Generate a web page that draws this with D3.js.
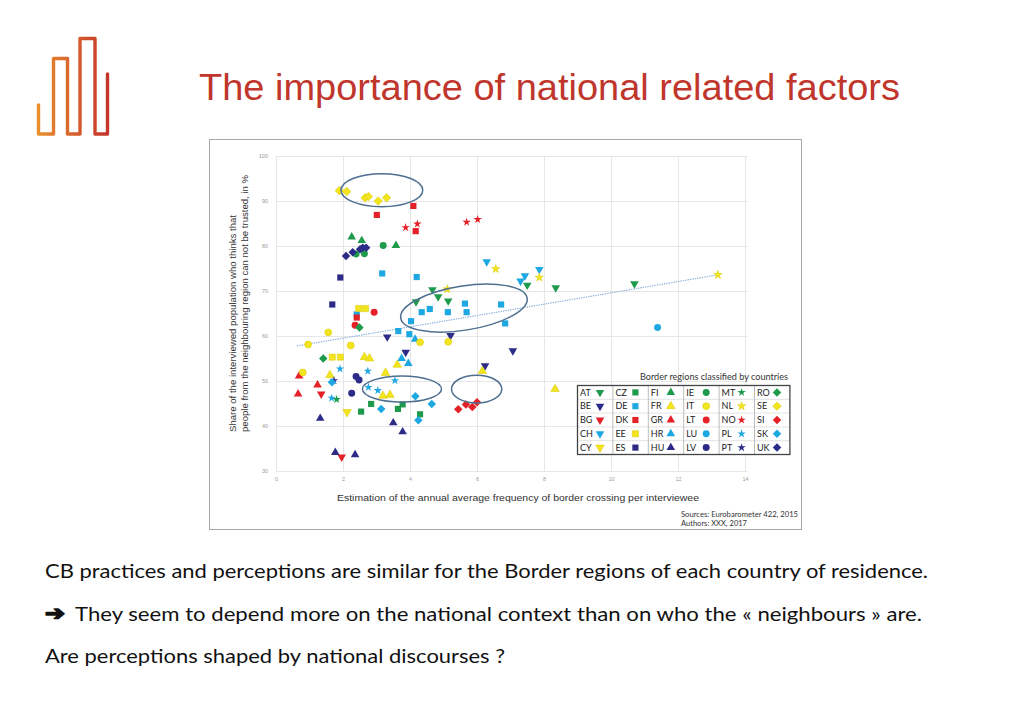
<!DOCTYPE html>
<html>
<head>
<meta charset="utf-8">
<script src="https://cdn.jsdelivr.net/npm/d3@7"></script>
<style>
body { margin: 0; background: #fff; }
svg { display: block; }
</style>
</head>
<body>
<div id="slide"></div>
<script>
// Border regions, one entry per country of residence
var countries = ["AT", "BE", "BG", "CH", "CY", "CZ", "DE", "DK", "EE", "ES",
    "FI", "FR", "GR", "HR", "HU", "IE", "IT", "LT", "LU", "LV",
    "MT", "NL", "NO", "PL", "PT", "RO", "SE", "SI", "SK", "UK"];

// crossings per interviewee (x) for each border region, same order as countries
var xValues = [
    [4.18, 4.67, 4.84, 5.14, 7.50, 8.35, 10.70],   // AT
    [3.32, 3.87, 5.21, 7.07, 6.24],                 // BE
    [1.35, 1.96],                                   // BG
    [6.29, 7.86, 7.43, 7.30],                       // CH
    [2.12],                                         // CY
    [2.54, 2.84, 3.64, 3.78, 4.30],                 // CZ
    [3.17, 4.20, 2.41, 3.65, 3.98, 4.03, 4.35, 4.59, 5.13, 5.64, 5.69, 6.72, 6.84], // DE
    [3.01, 4.10, 4.17, 2.41],                       // DK
    [2.47, 2.67, 1.68, 1.92],                       // EE
    [1.92, 1.68],                                   // ES
    [2.26, 2.56, 3.58],                             // FI
    [2.64, 2.79, 3.62, 1.61, 3.27, 3.19, 3.40, 6.16, 8.33], // FR
    [0.69, 1.24, 0.66],                             // GR
    [4.15, 3.75, 3.95],                             // HR
    [1.32, 3.50, 3.78, 1.77, 2.36],                 // HU
    [3.20, 2.39, 2.64],                             // IE
    [1.56, 0.96, 2.23, 0.80, 4.30, 5.14],           // IT
    [2.93, 2.36],                                   // LT
    [11.39],                                        // LU
    [2.39, 2.48, 2.26],                             // LV
    [1.81],                                         // MT
    [6.56, 7.86, 5.11, 13.19],                      // NL
    [3.87, 4.22, 5.69, 6.02],                       // NO
    [1.91, 2.74, 1.66, 3.55, 2.76, 3.04],           // PL
    [1.73],                                         // PT
    [2.49, 1.41],                                   // RO
    [1.89, 2.11, 2.66, 2.76, 3.05, 3.30],           // SE
    [5.44, 5.67, 5.86, 6.00],                       // SI
    [1.67, 4.16, 4.65, 3.14, 4.25],                 // SK
    [2.09, 2.29, 2.51, 2.59, 2.69]                  // UK
];

// share who think neighbours can not be trusted (y, %)
var yValues = [
    [67.6, 70.3, 68.7, 67.8, 71.3, 70.7, 71.6],
    [59.8, 56.4, 60.1, 56.7, 53.4],
    [47.1, 33.1],
    [76.5, 74.8, 73.4, 72.2],
    [43.1],
    [43.2, 44.9, 43.8, 44.8, 42.6],
    [73.9, 73.1, 64.8, 61.1, 60.4, 63.3, 65.3, 66.0, 65.3, 67.2, 65.3, 67.0, 62.8],
    [86.9, 88.9, 83.3, 64.1],
    [66.1, 66.1, 55.3, 55.3],
    [73.0, 67.0],
    [82.0, 81.2, 80.1],
    [55.3, 55.0, 53.6, 51.3, 51.8, 46.7, 46.9, 52.2, 48.2],
    [51.1, 49.1, 47.1],
    [59.3, 55.0, 53.9],
    [41.7, 40.7, 38.7, 34.1, 33.6],
    [80.1, 78.2, 78.3],
    [60.8, 58.1, 57.9, 51.9, 58.6, 58.7],
    [65.3, 62.4],
    [61.9],
    [51.0, 50.2, 47.3],
    [45.9],
    [74.9, 73.0, 70.4, 73.6],
    [84.1, 84.9, 85.3, 85.9],
    [52.7, 52.2, 46.2, 50.1, 48.6, 47.9],
    [50.1],
    [61.9, 55.0],
    [92.3, 92.1, 90.7, 91.0, 90.0, 90.7],
    [43.7, 44.8, 44.2, 45.3],
    [49.7, 46.6, 44.9, 43.8, 41.3],
    [77.8, 78.6, 79.3, 79.6, 79.6]
];

// dotted trend line end points
var trendX = [0.63, 13.19];
var trendY = [57.8, 73.6];

// circled groups: centre x, centre y, half width, half height (data units), tilt
var circledX = [3.16, 5.61, 3.76, 5.99];
var circledY = [92.4, 66.2, 48.2, 48.2];
var circledW = [1.22, 1.91, 1.18, 0.75];
var circledH = [3.67, 4.9, 2.9, 3.1];
var circledTilt = [0, -9, 0, 0];

var xTicks = [0, 2, 4, 6, 8, 10, 12, 14];
var yTicks = [30, 40, 50, 60, 70, 80, 90, 100];

var bodyLines = [
    "CB practices and perceptions are similar for the Border regions of each country of residence.",
    "They seem to depend more on the national context than on who the \u00ab neighbours \u00bb are.",
    "Are perceptions shaped by national discourses ?"
];

// colours and marker shapes (styling only)
var green = "#1e9a4c", navy = "#2c2b88", red = "#e42128", cyan = "#1ea8e2", yellow = "#f2e41e";
var countryColor = [green, navy, red, cyan, yellow,
    green, cyan, red, yellow, navy,
    green, yellow, red, cyan, navy,
    green, yellow, red, cyan, navy,
    green, yellow, red, cyan, navy,
    green, yellow, red, cyan, navy];

function markerPath(col) {
    if (col === 0 || col === 2) return d3.symbol().type(d3.symbolTriangle).size(32)();
    if (col === 1) return d3.symbol().type(d3.symbolSquare).size(38)();
    if (col === 3) return d3.symbol().type(d3.symbolCircle).size(38)();
    if (col === 4) return d3.symbol().type(d3.symbolStar).size(22)();
    return d3.symbol().type(d3.symbolSquare).size(36)();
}
function markerRotate(col) {
    if (col === 0) return 180;
    if (col === 5) return 45;
    return 0;
}

var svg = d3.select("#slide")
    .append("svg")
    .attr("width", 1024)
    .attr("height", 709);

// Logo
var grad = svg.append("defs").append("linearGradient")
    .attr("id", "logoGrad")
    .attr("x1", "0%").attr("x2", "100%").attr("y1", "0%").attr("y2", "0%");
grad.append("stop").attr("offset", "0%").attr("stop-color", "#ea8e2c");
grad.append("stop").attr("offset", "100%").attr("stop-color", "#c4352b");

svg.append("path")
    .attr("d", "M38.5,105 V134 H53.5 V58.5 H67.5 V134 H80 V38.5 H95 V134 H107.5 V74")
    .attr("fill", "none")
    .attr("stroke", "url(#logoGrad)")
    .attr("stroke-width", 3.4)
    .attr("stroke-linejoin", "round")
    .attr("stroke-linecap", "round");

// Title
svg.append("text")
    .attr("x", 199)
    .attr("y", 100)
    .attr("textLength", 701)
    .attr("lengthAdjust", "spacingAndGlyphs")
    .attr("font-family", "Liberation Sans, Arial, sans-serif")
    .attr("font-size", 37)
    .attr("fill", "#c0362c")
    .text("The importance of national related factors");

// Chart frame
svg.append("rect")
    .attr("x", 209.5).attr("y", 139.5)
    .attr("width", 592).attr("height", 390)
    .attr("fill", "#fff")
    .attr("stroke", "#a8a8a8")
    .attr("stroke-width", 1);

var xScale = d3.scaleLinear().domain([0, 14]).range([276, 745]);
var yScale = d3.scaleLinear().domain([30, 100]).range([471, 156]);

var chart = svg.append("g");

// Gridlines + tick labels
var xAxis = d3.axisBottom(xScale)
    .tickValues(xTicks)
    .tickSize(-(yScale(30) - yScale(100)))
    .tickPadding(6)
    .tickFormat(d3.format("d"));
var yAxis = d3.axisLeft(yScale)
    .tickValues(yTicks)
    .tickSize(-(xScale(14) - xScale(0)) - 3)
    .tickPadding(8)
    .tickFormat(d3.format("d"));

var gx = chart.append("g")
    .attr("transform", `translate(0, ${yScale(30)})`)
    .call(xAxis);
var gy = chart.append("g")
    .attr("transform", `translate(${xScale(0)}, 0)`)
    .call(yAxis);

[gx, gy].forEach(function(g) {
    g.select(".domain").remove();
    g.selectAll("line").attr("stroke", "#e6e6e6").attr("stroke-width", 1);
    g.selectAll("text")
        .attr("fill", "#9a9a9a")
        .attr("font-size", 5.5)
        .attr("font-family", "Liberation Sans, Arial, sans-serif");
});

// Trend line
chart.append("line")
    .attr("x1", xScale(trendX[0])).attr("y1", yScale(trendY[0]))
    .attr("x2", xScale(trendX[1])).attr("y2", yScale(trendY[1]))
    .attr("stroke", "#8fb4de")
    .attr("stroke-width", 1.2)
    .attr("stroke-dasharray", "1.4,1");

// Points
var points = [];
countries.forEach(function(c, i) {
    xValues[i].forEach(function(xv, j) {
        points.push({ country: c, index: i, x: xv, y: yValues[i][j] });
    });
});

chart.selectAll("path.pt")
    .data(points)
    .enter()
    .append("path")
    .attr("class", "pt")
    .attr("d", d => markerPath(Math.floor(d.index / 5)))
    .attr("transform", d => `translate(${xScale(d.x)}, ${yScale(d.y)}) rotate(${markerRotate(Math.floor(d.index / 5))})`)
    .attr("fill", d => countryColor[d.index])
    .attr("stroke", d => countryColor[d.index] === yellow ? "#d8c800" : "none")
    .attr("stroke-width", 0.5);

// Circled groups
circledX.forEach(function(cx, i) {
    var px = xScale(cx), py = yScale(circledY[i]);
    chart.append("ellipse")
        .attr("cx", px).attr("cy", py)
        .attr("rx", xScale(cx + circledW[i]) - px)
        .attr("ry", py - yScale(circledY[i] + circledH[i]))
        .attr("transform", `rotate(${circledTilt[i]}, ${px}, ${py})`)
        .attr("fill", "none")
        .attr("stroke", "#4e6f90")
        .attr("stroke-width", 1.5);
});

// Axis titles
var yTitle = ["Share of the interviewed population who thinks that",
    "people from the neighbouring region can not be trusted, in %"];
chart.append("text")
    .attr("transform", "translate(235.5, 432) rotate(-90)")
    .attr("textLength", 217)
    .attr("lengthAdjust", "spacingAndGlyphs")
    .attr("font-family", "Liberation Sans, Arial, sans-serif")
    .attr("font-size", 9.3)
    .attr("fill", "#333")
    .text(yTitle[0]);
chart.append("text")
    .attr("transform", "translate(247.5, 432) rotate(-90)")
    .attr("textLength", 257)
    .attr("lengthAdjust", "spacingAndGlyphs")
    .attr("font-family", "Liberation Sans, Arial, sans-serif")
    .attr("font-size", 9.3)
    .attr("fill", "#333")
    .text(yTitle[1]);

chart.append("text")
    .attr("x", 337)
    .attr("y", 501)
    .attr("textLength", 362)
    .attr("lengthAdjust", "spacingAndGlyphs")
    .attr("font-family", "Liberation Sans, Arial, sans-serif")
    .attr("font-size", 9.5)
    .attr("fill", "#333")
    .text("Estimation of the annual average frequency of border crossing per interviewee");

// Legend
var legX = 577.5, legY = 385.5, colW = 35.4, rowH = 13.8;
var legend = chart.append("g");

legend.append("text")
    .attr("x", 640)
    .attr("y", 380)
    .attr("textLength", 148)
    .attr("lengthAdjust", "spacingAndGlyphs")
    .attr("font-family", "Lato, sans-serif")
    .attr("font-size", 8.6)
    .attr("fill", "#333")
    .text("Border regions classified by countries");

legend.append("rect")
    .attr("x", legX).attr("y", legY)
    .attr("width", colW * 6).attr("height", rowH * 5)
    .attr("fill", "#fff");

for (var r = 1; r < 5; r++) {
    legend.append("line")
        .attr("x1", legX).attr("x2", legX + colW * 6)
        .attr("y1", legY + r * rowH).attr("y2", legY + r * rowH)
        .attr("stroke", "#e2e2e2");
}
for (var c = 1; c < 6; c++) {
    legend.append("line")
        .attr("x1", legX + c * colW).attr("x2", legX + c * colW)
        .attr("y1", legY).attr("y2", legY + rowH * 5)
        .attr("stroke", "#bdbdbd");
}
legend.append("rect")
    .attr("x", legX).attr("y", legY)
    .attr("width", colW * 6).attr("height", rowH * 5)
    .attr("fill", "none")
    .attr("stroke", "#444")
    .attr("stroke-width", 1.3);

var legItems = legend.selectAll("g.item")
    .data(countries)
    .enter()
    .append("g")
    .attr("class", "item")
    .attr("transform", (d, i) => `translate(${legX + Math.floor(i / 5) * colW}, ${legY + (i % 5) * rowH})`);

legItems.append("text")
    .attr("x", 2.5)
    .attr("y", rowH / 2 + 3.2)
    .attr("font-family", "Lato, sans-serif")
    .attr("font-size", 9)
    .attr("fill", "#222")
    .text(d => d);

legItems.append("path")
    .attr("d", (d, i) => markerPath(Math.floor(i / 5)))
    .attr("transform", (d, i) => `translate(22.5, ${rowH / 2}) rotate(${markerRotate(Math.floor(i / 5))})`)
    .attr("fill", (d, i) => countryColor[i])
    .attr("stroke", (d, i) => countryColor[i] === yellow ? "#d8c800" : "none")
    .attr("stroke-width", 0.5);

// Sources
chart.append("text")
    .attr("x", 681).attr("y", 516.5)
    .attr("textLength", 117)
    .attr("lengthAdjust", "spacingAndGlyphs")
    .attr("font-family", "Lato, sans-serif")
    .attr("font-size", 7)
    .attr("fill", "#333")
    .text("Sources: Eurobarometer 422, 2015");
chart.append("text")
    .attr("x", 681).attr("y", 525.5)
    .attr("textLength", 66)
    .attr("lengthAdjust", "spacingAndGlyphs")
    .attr("font-family", "Lato, sans-serif")
    .attr("font-size", 7)
    .attr("fill", "#333")
    .text("Authors: XXX, 2017");

// Body text
var body = svg.append("g")
    .attr("font-family", "Lato, sans-serif")
    .attr("font-size", 20)
    .attr("fill", "#111");

body.append("text")
    .attr("x", 45).attr("y", 578)
    .attr("textLength", 883)
    .attr("lengthAdjust", "spacingAndGlyphs")
    .text(bodyLines[0]);

// bold arrow bullet
body.append("text")
    .attr("x", 45).attr("y", 620)
    .attr("font-family", "DejaVu Sans, sans-serif")
    .attr("font-size", 20)
    .attr("font-weight", "bold")
    .attr("stroke", "#111")
    .attr("stroke-width", 1.6)
    .attr("stroke-linejoin", "round")
    .attr("textLength", 20)
    .attr("lengthAdjust", "spacingAndGlyphs")
    .text("\u2794");

body.append("text")
    .attr("x", 75).attr("y", 621)
    .attr("textLength", 847)
    .attr("lengthAdjust", "spacingAndGlyphs")
    .text(bodyLines[1]);

body.append("text")
    .attr("x", 45).attr("y", 663)
    .attr("textLength", 460)
    .attr("lengthAdjust", "spacingAndGlyphs")
    .text(bodyLines[2]);
</script>
</body>
</html>
